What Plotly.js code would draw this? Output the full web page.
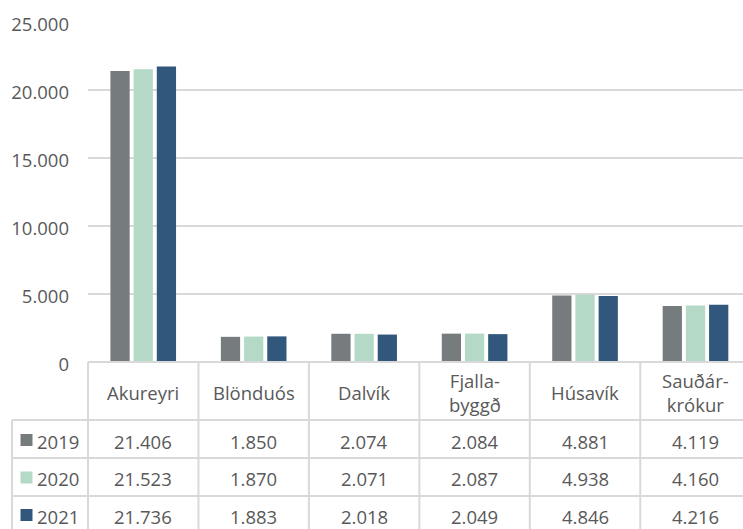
<!DOCTYPE html>
<html>
<head>
<meta charset="utf-8">
<script src="https://cdn.plot.ly/plotly-3.0.1.min.js"></script>
<style>html,body{margin:0;padding:0;background:#fff;}#chart{width:743px;height:529px;}</style>
</head>
<body>
<div id="chart"></div>
<script>
var categories = ['Akureyri', 'Blönduós', 'Dalvík', 'Fjalla-byggð', 'Húsavík', 'Sauðár-krókur'];
var years = ['2019', '2020', '2021'];
var values2019 = [21406, 1850, 2074, 2084, 4881, 4119];
var values2020 = [21523, 1870, 2071, 2087, 4938, 4160];
var values2021 = [21736, 1883, 2018, 2049, 4846, 4216];
var yTicks = [0, 5000, 10000, 15000, 20000, 25000];

var seriesValues = [values2019, values2020, values2021];
var colors = ['#767b7e', '#b4d9c7', '#31587c'];
var textColor = '#595959';
var lineColor = '#d9d9d9';
var font = 'Open Sans, sans-serif';
var fsize = 18.5;

var W = 743, H = 529, L = 88, T = 22, B = 167;
var plotW = W - L, plotH = H - T - B;
function px(p) { return (p - L) / plotW; }
function py(p) { return (H - B - p) / plotH; }

function fmt(v) {
  return String(v).replace(/\B(?=(\d{3})+(?!\d))/g, '.');
}

var traces = years.map(function (yr, i) {
  return {
    type: 'bar',
    name: yr,
    x: categories,
    y: seriesValues[i],
    marker: { color: colors[i] },
    hoverinfo: 'x+y+name'
  };
});

var shapes = [];
var annotations = [];
var rowLines = [420, 458, 496, 534];
var rowCenters = [441, 478.5, 516];

shapes.push({ type: 'line', xref: 'paper', yref: 'paper', x0: 0, x1: 1.05, y0: py(362), y1: py(362), line: { color: lineColor, width: 2 } });
rowLines.forEach(function (r) {
  shapes.push({ type: 'line', xref: 'paper', yref: 'paper', x0: px(12), x1: 1.05, y0: py(r), y1: py(r), line: { color: lineColor, width: 2 } });
});
shapes.push({ type: 'line', xref: 'paper', yref: 'paper', x0: px(12), x1: px(12), y0: py(420), y1: py(540), line: { color: lineColor, width: 2 } });
shapes.push({ type: 'line', xref: 'paper', yref: 'paper', x0: px(88), x1: px(88), y0: py(362), y1: py(540), line: { color: lineColor, width: 2 } });
for (var c = 1; c <= categories.length; c++) {
  shapes.push({ type: 'line', xref: 'x', yref: 'paper', x0: c - 0.5, x1: c - 0.5, y0: py(362), y1: py(540), line: { color: lineColor, width: 2 } });
}

categories.forEach(function (cat) {
  annotations.push({
    xref: 'x', yref: 'paper', x: cat, y: 0, yanchor: 'middle', xanchor: 'center',
    yshift: -(392 - 362), text: cat.replace('-', '-<br>'), showarrow: false,
    font: { family: font, size: fsize, color: textColor }
  });
});

years.forEach(function (yr, i) {
  var yc = rowCenters[i];
  shapes.push({
    type: 'rect', xref: 'paper', yref: 'paper',
    x0: px(20.5), x1: px(32.5), y0: py(yc + 5), y1: py(yc - 7),
    line: { width: 0 }, fillcolor: colors[i]
  });
  annotations.push({
    xref: 'paper', yref: 'paper', x: 0, y: 0, xanchor: 'left', yanchor: 'middle',
    xshift: 35 - L, yshift: -(yc - 362), text: yr, showarrow: false,
    font: { family: font, size: fsize, color: textColor }
  });
  categories.forEach(function (cat, j) {
    annotations.push({
      xref: 'x', yref: 'paper', x: cat, y: 0, xanchor: 'center', yanchor: 'middle',
      yshift: -(yc - 362), text: fmt(seriesValues[i][j]), showarrow: false,
      font: { family: font, size: fsize, color: textColor }
    });
  });
});

var layout = {
  width: W, height: H,
  margin: { l: L, r: 0, t: T, b: B, pad: 0 },
  paper_bgcolor: '#ffffff', plot_bgcolor: '#ffffff',
  separators: ',.',
  barmode: 'group',
  bargap: 0.37,
  bargroupgap: 0.17,
  showlegend: false,
  xaxis: {
    type: 'category', range: [-0.5, 5.43], showticklabels: false, showgrid: false,
    zeroline: false, showline: false, ticks: '', fixedrange: true
  },
  yaxis: {
    range: [0, 25000], tickvals: yTicks, ticktext: yTicks.map(fmt),
    showgrid: true, gridcolor: lineColor, gridwidth: 1.5, zeroline: false, showline: false,
    ticks: '', ticklabelstandoff: 18, ticklabelshift: 3,
    tickfont: { family: font, size: fsize, color: textColor }, fixedrange: true
  },
  shapes: shapes,
  annotations: annotations
};

Plotly.newPlot('chart', traces, layout, { displayModeBar: false, staticPlot: true });
</script>
</body>
</html>
